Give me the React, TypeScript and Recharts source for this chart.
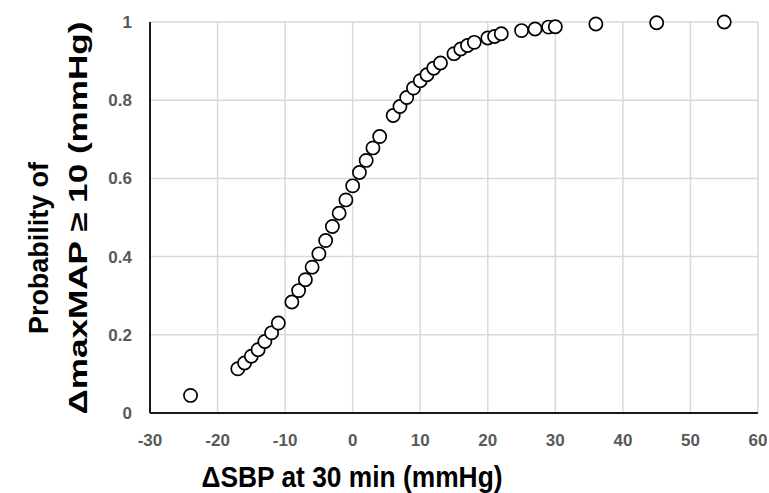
import { CartesianGrid, Label, Scatter, ScatterChart, XAxis, YAxis } from "recharts";

// ΔSBP at 30 min (mmHg)
const sbpDelta = [
  -24, -17, -16, -15, -14, -13, -12, -11, -9, -8, -7, -6, -5, -4, -3, -2, -1, 0, 1, 2, 3, 4,
  6, 7, 8, 9, 10, 11, 12, 13, 15, 16, 17, 18, 20, 21, 22, 25, 27, 29, 30, 36, 45, 55,
];

// probability of ΔmaxMAP ≥ 10
const probability = [
  0.045, 0.113, 0.128, 0.145, 0.162, 0.183, 0.205, 0.23, 0.284, 0.313, 0.341, 0.373, 0.407,
  0.441, 0.477, 0.511, 0.545, 0.581, 0.615, 0.646, 0.678, 0.707, 0.761, 0.784, 0.807, 0.831,
  0.85, 0.865, 0.882, 0.895, 0.919, 0.931, 0.94, 0.948, 0.959, 0.963, 0.97, 0.978, 0.982,
  0.987, 0.988, 0.995, 0.998, 1.0,
];

const xTicks = [-30, -20, -10, 0, 10, 20, 30, 40, 50, 60];
const yTicks = [0, 0.2, 0.4, 0.6, 0.8, 1];

const points = sbpDelta.map((x, i) => ({ x, y: probability[i] }));

const font = "Liberation Sans, Arial, sans-serif";

const OpenCircle = (props: any) => (
  <circle cx={props.cx} cy={props.cy} r={6.6} fill="#fff" stroke="#000" strokeWidth={1.7} />
);

const XTick = (props: any) => (
  <text
    x={props.x}
    y={props.y + 13}
    textAnchor="middle"
    fontFamily={font}
    fontWeight={700}
    fontSize={17}
    fill="#595959"
  >
    {props.payload.value}
  </text>
);

const YTick = (props: any) => (
  <text
    x={props.x}
    y={props.y + 6}
    textAnchor="end"
    fontFamily={font}
    fontWeight={700}
    fontSize={17}
    fill="#595959"
  >
    {props.payload.value}
  </text>
);

const XTitle = () => (
  <text
    x={352}
    y={487}
    textAnchor="middle"
    fontFamily={font}
    fontWeight={700}
    fontSize={29}
    fill="#000"
    textLength={301}
    lengthAdjust="spacingAndGlyphs"
  >
    ΔSBP at 30 min (mmHg)
  </text>
);

const YTitle = () => (
  <g fontFamily={font} fontWeight={700} fill="#000">
    <text
      transform="translate(48,248) rotate(-90)"
      textAnchor="middle"
      fontSize={28}
      textLength={172}
      lengthAdjust="spacingAndGlyphs"
    >
      Probability of
    </text>
    <text
      transform="translate(87,218) rotate(-90)"
      textAnchor="middle"
      fontSize={26}
      textLength={393}
      lengthAdjust="spacingAndGlyphs"
    >
      ΔmaxMAP ≥ 10 (mmHg)
    </text>
  </g>
);

export default function App() {
  return (
    <div style={{ position: "absolute", left: 0, top: 0, width: 769, height: 493, background: "#fff" }}>
      <ScatterChart width={769} height={493} margin={{ top: 22, right: 11, bottom: 0, left: 0 }}>
        <CartesianGrid stroke="#d9d9d9" strokeWidth={1.5} />
        <XAxis
          type="number"
          dataKey="x"
          domain={[-30, 60]}
          ticks={xTicks}
          interval={0}
          height={80}
          tick={XTick}
          tickSize={0}
          tickMargin={20}
          tickLine={false}
          axisLine={{ stroke: "#1a1a1a", strokeWidth: 2 }}
        >
          <Label content={XTitle} />
        </XAxis>
        <YAxis
          type="number"
          dataKey="y"
          domain={[0, 1]}
          ticks={yTicks}
          interval={0}
          width={150}
          tick={YTick}
          tickSize={0}
          tickMargin={18}
          tickLine={false}
          axisLine={{ stroke: "#1a1a1a", strokeWidth: 2 }}
        >
          <Label content={YTitle} />
        </YAxis>
        <Scatter data={points} shape={OpenCircle} isAnimationActive={false} />
      </ScatterChart>
    </div>
  );
}
